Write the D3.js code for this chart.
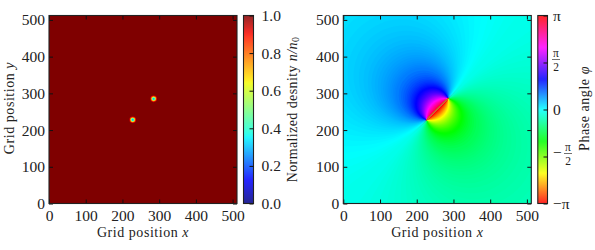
<!DOCTYPE html>
<html>
<head>
<meta charset="utf-8">
<script src="https://cdn.jsdelivr.net/npm/d3@7"></script>
<style>
  html, body { margin: 0; padding: 0; background: #fff; }
  text { font-family: "Liberation Serif", serif; fill: #222; }
</style>
</head>
<body>
<svg id="chart" width="595" height="250"></svg>
<script>
// values
const gridTicks = [0, 100, 200, 300, 400, 500];
const gridMax = 512;
const vortexA = [228, 228];
const vortexB = [285, 285];

// density around each vortex core: radius in grid cells, n/n0
const coreRadius = [9, 7.5, 6.5, 5.5, 4, 2.5];
const coreDensity = [0.93, 0.86, 0.72, 0.58, 0.42, 0.3];

// phase contours (radians), each one is an arc through both vortices
const phaseLevels = [0.02, 0.04, 0.06, 0.08, 0.1, 0.12, 0.14, 0.16, 0.18, 0.2, 0.22, 0.24, 0.26, 0.28, 0.3, 0.32,
  0.34, 0.36, 0.38, 0.4, 0.42, 0.44, 0.46, 0.48, 0.5, 0.52, 0.54, 0.56, 0.58, 0.6,
  0.64, 0.68, 0.72, 0.76, 0.8, 0.84, 0.88, 0.92, 0.96, 1.0, 1.04, 1.08, 1.12, 1.16, 1.2, 1.24, 1.28, 1.32,
  1.36, 1.4, 1.44, 1.48, 1.52, 1.56, 1.6, 1.64, 1.68, 1.72, 1.76, 1.8, 1.84, 1.88, 1.92, 1.96, 2.0, 2.04,
  2.08, 2.12, 2.16, 2.2, 2.24, 2.28, 2.32, 2.36, 2.4, 2.44, 2.48, 2.52, 2.56, 2.6, 2.64, 2.68, 2.72, 2.76,
  2.8, 2.84, 2.88, 2.92, 2.96, 3.0, 3.04, 3.08, 3.12];
// the zero contour leaves the vortices bent away from the diagonal
const phaseShift = -0.09;

const densityTicks = [0, 0.2, 0.4, 0.6, 0.8, 1];
const densityStops = [0, 0.11, 0.125, 0.35, 0.375, 0.64, 0.66, 0.89, 0.91, 1];
const densityColors = ["#00007f", "#0000f1", "#0000ff", "#00f5ff", "#15ffe2", "#f1fc06", "#ffe600", "#ff1600", "#f10700", "#7f0000"];

const phaseStopsFrac = [0, 0.16, 0.33, 0.5, 0.66, 0.83, 1];
const phaseColors = ["#ff0000", "#ffff00", "#00ff00", "#00ffff", "#0000ff", "#ff00ff", "#ff0000"];

const svg = d3.select("#chart");

const jet = d3.scaleLinear().domain(densityStops).range(densityColors);
const hsv = d3.scaleLinear()
  .domain(phaseStopsFrac.map(d => -Math.PI + d * 2 * Math.PI))
  .range(phaseColors);

function panel(left, right) {
  const x = d3.scaleLinear().domain([0, gridMax]).range([left, right]);
  const y = d3.scaleLinear().domain([0, gridMax]).range([203.5, 15.5]);
  return {x, y};
}

function styleAxis(sel) {
  sel.select(".domain").remove();
  sel.selectAll("line").attr("stroke", "#111").attr("stroke-width", 1);
  sel.selectAll("text").attr("font-size", 15.5);
}

function frame(p) {
  const g = svg.append("g");
  const [l, r] = p.x.range();
  const [b, t] = p.y.range();

  g.append("g").attr("transform", `translate(0,${b})`)
    .call(d3.axisBottom(p.x).tickValues(gridTicks).tickSizeInner(-4).tickSizeOuter(0).tickPadding(6))
    .call(styleAxis);
  g.append("g").attr("transform", `translate(${l},0)`)
    .call(d3.axisLeft(p.y).tickValues(gridTicks).tickSizeInner(-4).tickSizeOuter(0).tickPadding(4))
    .call(styleAxis);
  g.append("g").attr("transform", `translate(0,${t})`)
    .call(d3.axisTop(p.x).tickValues(gridTicks).tickSizeInner(-4).tickSizeOuter(0).tickFormat(""))
    .call(styleAxis);
  g.append("g").attr("transform", `translate(${r},0)`)
    .call(d3.axisRight(p.y).tickValues(gridTicks).tickSizeInner(-4).tickSizeOuter(0).tickFormat(""))
    .call(styleAxis);

  g.append("rect").attr("x", l).attr("y", t).attr("width", r - l).attr("height", b - t)
    .attr("fill", "none").attr("stroke", "#222").attr("stroke-width", 1.1);

  const xl = g.append("text").attr("x", (l + r) / 2).attr("y", 236.5)
    .attr("text-anchor", "middle").attr("font-size", 14).attr("letter-spacing", 0.55);
  xl.append("tspan").text("Grid position ");
  xl.append("tspan").attr("font-style", "italic").text("x");
}

function clipRect(id, p) {
  const [l, r] = p.x.range();
  const [b, t] = p.y.range();
  svg.append("clipPath").attr("id", id).append("rect")
    .attr("x", l).attr("y", t).attr("width", r - l).attr("height", b - t);
}

// left panel: density
const pn = panel(49, 237);
clipRect("clipN", pn);
const gn = svg.append("g").attr("clip-path", "url(#clipN)");
gn.append("rect").attr("x", 49).attr("y", 15.5).attr("width", 188).attr("height", 188).attr("fill", jet(1));
[vortexA, vortexB].forEach(v => {
  gn.selectAll(null).data(coreRadius).enter().append("circle")
    .attr("cx", pn.x(v[0]))
    .attr("cy", pn.y(v[1]))
    .attr("r", d => pn.x(d) - pn.x(0))
    .attr("fill", (d, i) => jet(coreDensity[i]));
});
frame(pn);

svg.append("text").attr("transform", "translate(13.5,108) rotate(-90)")
  .attr("text-anchor", "middle").attr("font-size", 14).attr("letter-spacing", 0.55)
  .call(t => {
    t.append("tspan").text("Grid position ");
    t.append("tspan").attr("font-style", "italic").text("y");
  });

// right panel: phase
const pp = panel(343.3, 531.3);
clipRect("clipP", pp);
const gp = svg.append("g").attr("clip-path", "url(#clipP)");
gp.append("rect").attr("x", 343.3).attr("y", 15.5).attr("width", 188).attr("height", 188).attr("fill", hsv(phaseShift));

// the diagonal through the vortices splits the two sides of the branch cut
const halfUp = `${pp.x(0)},${pp.y(0)} ${pp.x(0)},${pp.y(gridMax)} ${pp.x(gridMax)},${pp.y(gridMax)}`;
const halfDown = `${pp.x(0)},${pp.y(0)} ${pp.x(gridMax)},${pp.y(0)} ${pp.x(gridMax)},${pp.y(gridMax)}`;
svg.append("clipPath").attr("id", "clipUp").append("polygon").attr("points", halfUp);
svg.append("clipPath").attr("id", "clipDown").append("polygon").attr("points", halfDown);

const midX = (vortexA[0] + vortexB[0]) / 2;
const midY = (vortexA[1] + vortexB[1]) / 2;
const halfChord = Math.hypot(vortexB[0] - vortexA[0], vortexB[1] - vortexA[1]) / 2;
const pxPerGrid = pp.x(1) - pp.x(0);

function arcs(clip, side) {
  gp.append("g").attr("clip-path", `url(#${clip})`)
    .selectAll("circle").data(phaseLevels).enter().append("circle")
    .attr("cx", d => pp.x(midX - side * Math.SQRT1_2 * halfChord / Math.tan(d)))
    .attr("cy", d => pp.y(midY + side * Math.SQRT1_2 * halfChord / Math.tan(d)))
    .attr("r", d => pxPerGrid * halfChord / Math.sin(d))
    .attr("fill", d => hsv(side * d + phaseShift));
}
arcs("clipUp", 1);
arcs("clipDown", -1);
// branch cut between the vortices
gp.append("line")
  .attr("x1", pp.x(vortexA[0])).attr("y1", pp.y(vortexA[1]))
  .attr("x2", pp.x(vortexB[0])).attr("y2", pp.y(vortexB[1]))
  .attr("stroke", "#c08080").attr("stroke-width", 0.7);
frame(pp);

// colorbars
function colorbar(left, right, scale, lo, hi) {
  const cy = d3.scaleLinear().domain([lo, hi]).range([203.5, 15.5]);
  const rows = d3.range(188);
  svg.append("g").selectAll("rect").data(rows).enter().append("rect")
    .attr("x", left).attr("width", right - left)
    .attr("y", d => 15.5 + d).attr("height", 1.2)
    .attr("fill", d => scale(cy.invert(15.5 + d + 0.5)));
  svg.append("rect").attr("x", left).attr("y", 15.5).attr("width", right - left).attr("height", 188)
    .attr("fill", "none").attr("stroke", "#222").attr("stroke-width", 1.1);
  return cy;
}

const cn = colorbar(243.5, 253.5, jet, 0, 1);
svg.append("g").attr("transform", "translate(253.5,0)")
  .call(d3.axisRight(cn).tickValues(densityTicks).tickSizeInner(-4).tickSizeOuter(0).tickPadding(8).tickFormat(d3.format(".1f")))
  .call(styleAxis);

const nl = svg.append("text").attr("transform", "translate(297,109.5) rotate(-90)")
  .attr("text-anchor", "middle").attr("font-size", 14).attr("letter-spacing", 0.4);
nl.append("tspan").text("Normalized desnity ");
nl.append("tspan").attr("font-style", "italic").text("n/n");
nl.append("tspan").attr("font-size", 10).attr("dy", 2).text("0");

const cp = colorbar(537.8, 547.5, hsv, -Math.PI, Math.PI);
const phaseTicks = [-Math.PI, -Math.PI / 2, 0, Math.PI / 2, Math.PI];
svg.append("g").attr("transform", "translate(547.5,0)")
  .call(d3.axisRight(cp).tickValues(phaseTicks).tickSizeInner(-4).tickSizeOuter(0).tickFormat(""))
  .call(styleAxis);

const plain = [["\u03C0", Math.PI], ["0", 0], ["\u2212\u03C0", -Math.PI]];
svg.append("g").selectAll("text").data(plain).enter().append("text")
  .attr("x", 553).attr("y", d => cp(d[1]) + 5).attr("font-size", 15.5).text(d => d[0]);

// fractions for +-pi/2, their bar sits a bit above the tick
[[Math.PI / 2, ""], [-Math.PI / 2, "\u2212"]].forEach(([v, sign]) => {
  const fy = cp(v) - 3;
  const fx = sign ? 568 : 556;
  if (sign) svg.append("text").attr("x", 553).attr("y", fy + 4.5).attr("font-size", 15.5).text(sign);
  svg.append("text").attr("x", fx).attr("y", fy - 2.8).attr("font-size", 11.5).attr("text-anchor", "middle").text("\u03C0");
  svg.append("line").attr("x1", fx - 4).attr("x2", fx + 4).attr("y1", fy).attr("y2", fy).attr("stroke", "#333").attr("stroke-width", 0.7);
  svg.append("text").attr("x", fx).attr("y", fy + 11).attr("font-size", 11.5).attr("text-anchor", "middle").text("2");
});

const pl = svg.append("text").attr("transform", "translate(589,108.5) rotate(-90)")
  .attr("text-anchor", "middle").attr("font-size", 14).attr("letter-spacing", 0.55);
pl.append("tspan").text("Phase angle ");
pl.append("tspan").attr("font-style", "italic").text("\u03C6");
</script>
</body>
</html>
